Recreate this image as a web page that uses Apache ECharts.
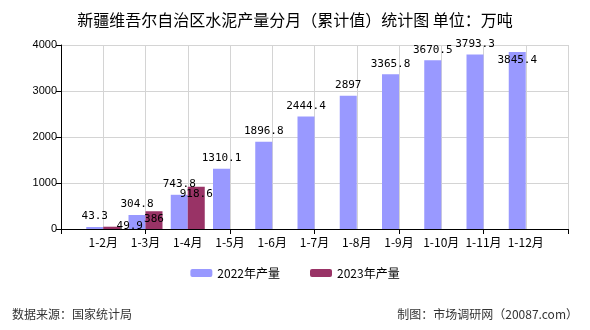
<!DOCTYPE html>
<html>
<head>
<meta charset="utf-8">
<script src="https://cdn.jsdelivr.net/npm/echarts@6/dist/echarts.min.js"></script>
<style>html,body{margin:0;padding:0;background:#fff}#chart{width:590px;height:330px}</style>
</head>
<body>
<div id="chart"></div>
<script>
// 数据(万吨)
const months = ['1-2月', '1-3月', '1-4月', '1-5月', '1-6月', '1-7月', '1-8月', '1-9月', '1-10月', '1-11月', '1-12月'];
const y2022 = [43.3, 304.8, 743.8, 1310.1, 1896.8, 2444.4, 2897, 3365.8, 3670.5, 3793.3, 3845.4];
const y2023 = [49.9, 386, 918.6];
const yTicks = [0, 1000, 2000, 3000, 4000];

const cjk = '"Noto Sans CJK SC", sans-serif';
// 轴两端各留一个空位, 柱子落在网格线上
const axisCats = [''].concat(months, ['']);
const pad = arr => [null].concat(arr, new Array(axisCats.length - 1 - arr.length).fill(null));

// 原图里有两个标签被挤开了
const data2022 = pad(y2022).map((v, i) => i === y2022.length
  ? { value: v, label: { position: 'insideTop', distance: 3 } } : v);
const data2023 = pad(y2023).map((v, i) => i === 1
  ? { value: v, label: { position: 'top', distance: 0, offset: [18, 5] } } : v);

const chart = echarts.init(document.getElementById('chart'), null, { renderer: 'canvas' });
chart.setOption({
  animation: false,
  title: {
    text: '新疆维吾尔自治区水泥产量分月（累计值）统计图 单位：万吨',
    left: 'center', top: 7,
    textStyle: { fontFamily: cjk, fontSize: 16, fontWeight: 'normal', color: '#000' },
  },
  legend: {
    bottom: 46, left: 'center', itemWidth: 22, itemHeight: 8, itemGap: 30,
    textStyle: { fontFamily: cjk, fontSize: 12, color: '#000' },
    data: ['2022年产量', '2023年产量'],
  },
  graphic: [
    { type: 'text', left: 12, top: 308, style: { text: '数据来源：国家统计局', font: '12px ' + cjk, fill: '#333' } },
    { type: 'text', right: 12, top: 308, style: { text: '制图：市场调研网（20087.com）', font: '12px ' + cjk, fill: '#333' } },
  ],
  grid: { left: 61, right: 22, top: 45, bottom: 101 },
  xAxis: {
    type: 'category', data: axisCats, boundaryGap: false,
    axisLine: { lineStyle: { color: '#000' } },
    axisTick: { interval: 1, length: 5, lineStyle: { color: '#000' } },
    axisLabel: { interval: 0, fontFamily: cjk, fontSize: 12, color: '#000', margin: 7 },
    splitLine: { show: true, interval: 0, lineStyle: { color: '#d4d4d4' } },
  },
  yAxis: {
    type: 'value', min: yTicks[0], max: yTicks[yTicks.length - 1], interval: 1000,
    axisLine: { show: true, lineStyle: { color: '#000' } },
    axisTick: { show: true, length: 5, lineStyle: { color: '#000' } },
    axisLabel: { fontFamily: 'Arial, "Liberation Sans", sans-serif', fontSize: 11, color: '#000', margin: 4,
      formatter: v => String(v) },
    splitLine: { lineStyle: { color: '#d4d4d4' } },
  },
  series: [
    {
      name: '2022年产量', type: 'bar', data: data2022, barWidth: 17, barGap: '0%',
      itemStyle: { color: '#9999ff' },
      label: {
        show: true, position: 'top', distance: 5,
        fontFamily: '"DejaVu Sans Mono", monospace', fontSize: 11, color: '#000',
        formatter: p => p.value == null ? '' : p.value,
      },
    },
    {
      name: '2023年产量', type: 'bar', data: data2023, barWidth: 17,
      itemStyle: { color: '#993366' },
      label: {
        show: true, position: 'insideTop', distance: 2,
        fontFamily: '"DejaVu Sans Mono", monospace', fontSize: 11, color: '#000',
        formatter: p => p.value == null ? '' : p.value,
      },
    },
  ],
});
</script>
</body>
</html>
